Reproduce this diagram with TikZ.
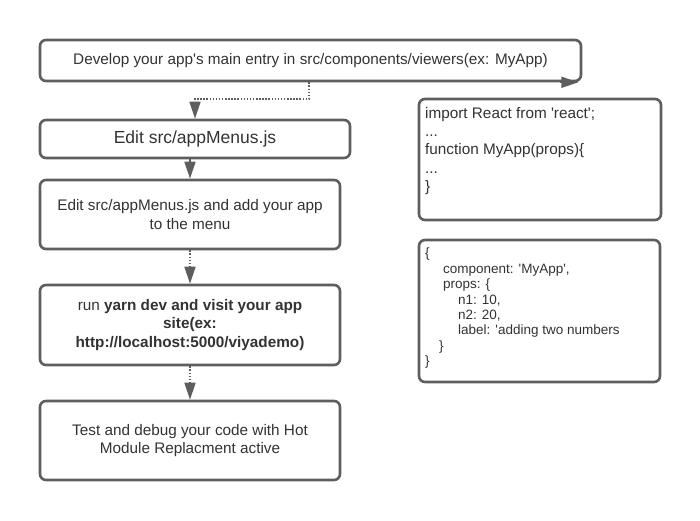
\documentclass[tikz,border=0pt]{standalone}
\usepackage{fontspec}
\setmainfont{Liberation Sans}[Ligatures=TeXOff]
\usetikzlibrary{arrows.meta}
\definecolor{edge}{HTML}{5E5E5E}
\definecolor{ink}{HTML}{333333}
\begin{document}
\begin{tikzpicture}[x=1pt,y=-1pt,
  box/.style={draw=edge, line width=2.6pt, rounded corners=6pt, fill=white, inner sep=0pt, text=ink, align=center},
  txt/.style={font=\fontsize{15.3}{18.5}\selectfont},
  big/.style={font=\fontsize{17.5}{20}\selectfont},
  codetxt/.style={inner sep=0pt, text=ink, align=left, anchor=north west},
  conn/.style={draw=edge, line width=1.6pt, -{Triangle[length=17pt,width=11pt]}},
  dots/.style={conn, dash pattern=on 1.5pt off 1.6pt}]
\fill[white] (0,0) rectangle (700,520);
\useasboundingbox (0,0) rectangle (700,520);

\node[box, txt, minimum width=541pt, minimum height=41pt] (b1) at (310.5,60.5)
  {Develop your app's main entry in src/components/viewers(ex: MyApp)};
\node[box, big, minimum width=310pt, minimum height=38pt] (b2) at (195,139)
  {Edit src/appMenus.js};
\node[box, txt, minimum width=300pt, minimum height=69pt] (b3) at (190,214.5)
  {Edit src/appMenus.js and add your app\\to the menu};
\node[box, txt, minimum width=300pt, minimum height=80pt] (b4) at (190,325)
  {run \textbf{yarn dev and visit your app}\\\textbf{site(ex:}\\\textbf{http://localhost:5000/viyademo)}};
\node[box, txt, minimum width=300pt, minimum height=79pt] (b5) at (190,440.5)
  {Test and debug your code with Hot\\Module Replacment active};

\node[box, minimum width=242pt, minimum height=121pt] (c1) at (540,159.5) {};
\node[codetxt, txt, font=\fontsize{15.3}{18.3}\selectfont] (c1t) at (425,107)
  {import React from 'react';\\...\\function MyApp(props)\{\\...\\\}};

\node[box, minimum width=241pt, minimum height=142pt] (c2) at (539.5,311) {};
\node[codetxt, font=\fontsize{13.5}{15.4}\selectfont] (c2t) at (425,248)
  {\{\\
   \hspace*{18pt}component: 'MyApp',\\
   \hspace*{18pt}props: \{\\
   \hspace*{33pt}n1: 10,\\
   \hspace*{33pt}n2: 20,\\
   \hspace*{33pt}label: 'adding two numbers\\
   \hspace*{14pt}\}\\
   \}};

\coordinate (k1) at (309,99);
\draw[dots] (b1.south -| k1) -- (k1) -| (b2.north);
\draw[conn] (b2.south -| b3.north) -- (b3.north);
\draw[dots] (b3.south) -- (b4.north);
\draw[dots] (b4.south) -- (b5.north);
\draw[conn] ([xshift=-22pt]b1.south east) -- ([xshift=-4pt]b1.south east);
\end{tikzpicture}
\end{document}
